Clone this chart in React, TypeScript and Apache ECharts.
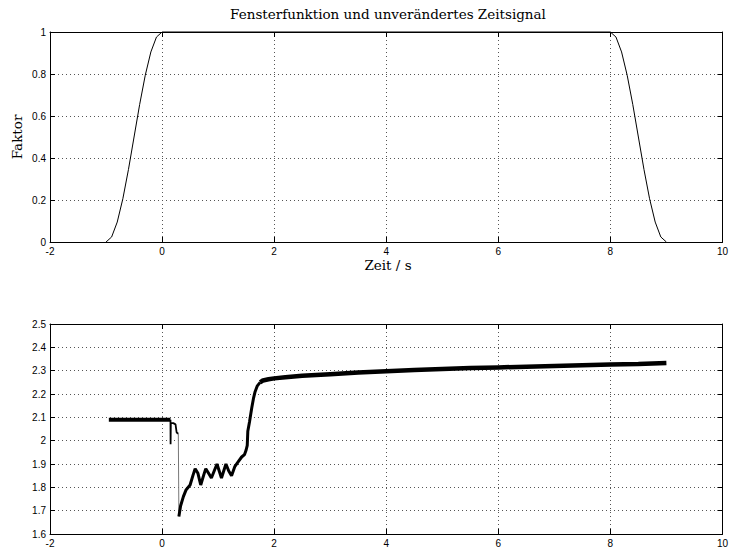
import React, { useEffect, useRef } from "react";
import * as echarts from "echarts";

// ---- Data ----
const xTicks = [-2, 0, 2, 4, 6, 8, 10];

// Window function (top plot)
const windowT = [-1, -0.9, -0.8, -0.7, -0.6, -0.5, -0.4, -0.3, -0.2, -0.1, 0, 8, 8.1, 8.2, 8.3, 8.4, 8.5, 8.6, 8.7, 8.8, 8.9, 9];
const windowV = [0, 0.024, 0.095, 0.206, 0.345, 0.5, 0.655, 0.794, 0.905, 0.976, 1, 1, 0.976, 0.905, 0.794, 0.655, 0.5, 0.345, 0.206, 0.095, 0.024, 0];

// Time signal (bottom plot)
const holdT = [-0.95, 0.15];
const holdV = [2.09, 2.09];

const spikeT = [0.15, 0.152, 0.156, 0.2, 0.24, 0.26, 0.29];
const spikeV = [2.09, 1.985, 2.075, 2.075, 2.07, 2.035, 2.03];

const dropT = [0.29, 0.3];
const dropV = [2.03, 1.675];

const recoverT = [0.3, 0.33, 0.38, 0.43, 0.5, 0.55, 0.59, 0.64, 0.69, 0.74, 0.78, 0.83, 0.88, 0.93, 0.98, 1.02, 1.06, 1.1, 1.14, 1.19, 1.24, 1.3, 1.36, 1.42, 1.47, 1.5, 1.52, 1.53, 1.56, 1.6, 1.63, 1.66, 1.7, 1.75];
const recoverV = [1.675, 1.72, 1.76, 1.79, 1.81, 1.85, 1.88, 1.86, 1.81, 1.85, 1.88, 1.86, 1.84, 1.87, 1.9, 1.87, 1.84, 1.87, 1.9, 1.87, 1.85, 1.89, 1.91, 1.93, 1.94, 1.96, 1.98, 2.04, 2.08, 2.14, 2.18, 2.21, 2.235, 2.25];

const plateauT = [1.75, 1.8, 1.9, 2.0, 2.2, 2.5, 3.0, 3.5, 4.0, 4.5, 5.0, 5.5, 6.0, 6.5, 7.0, 7.5, 8.0, 8.5, 9.0];
const plateauV = [2.25, 2.258, 2.263, 2.267, 2.272, 2.278, 2.285, 2.292, 2.298, 2.303, 2.307, 2.311, 2.314, 2.317, 2.32, 2.323, 2.326, 2.329, 2.333];

const titleText = "Fensterfunktion und unverändertes Zeitsignal";
const xLabelText = "Zeit / s";
const yLabelText = "Faktor";

const pairs = (t: number[], v: number[]) => t.map((x, i) => [x, v[i]]);

const LABEL_FONT = "Liberation Sans";
const SERIF = "DejaVu Serif";

function mainX(gridIndex: number) {
  return {
    type: "value",
    gridIndex,
    position: "bottom",
    min: xTicks[0],
    max: xTicks[xTicks.length - 1],
    interval: 2,
    axisLine: { show: true, onZero: false, lineStyle: { color: "#000", width: 1 } },
    axisTick: { show: true, inside: true, length: 5, lineStyle: { color: "#000" } },
    axisLabel: { color: "#000", fontSize: 10, fontFamily: LABEL_FONT, margin: 4 },
    splitLine: { show: true, lineStyle: { type: [1, 3], color: "#555", width: 1 } },
  };
}
function secX(gridIndex: number) {
  return {
    type: "value",
    gridIndex,
    position: "top",
    min: xTicks[0],
    max: xTicks[xTicks.length - 1],
    interval: 2,
    axisLine: { show: true, onZero: false, lineStyle: { color: "#000", width: 1 } },
    axisTick: { show: true, inside: true, length: 5, lineStyle: { color: "#000" } },
    axisLabel: { show: false },
    splitLine: { show: false },
  };
}
function mainY(gridIndex: number, min: number, max: number, interval: number) {
  return {
    type: "value",
    gridIndex,
    position: "left",
    min,
    max,
    interval,
    axisLine: { show: true, onZero: false, lineStyle: { color: "#000", width: 1 } },
    axisTick: { show: true, inside: true, length: 5, lineStyle: { color: "#000" } },
    axisLabel: {
      color: "#000",
      fontSize: 10,
      fontFamily: LABEL_FONT,
      margin: 4,
      formatter: (v: number) => String(Math.round(v * 10) / 10),
    },
    splitLine: { show: true, lineStyle: { type: [1, 3], color: "#555", width: 1 } },
  };
}
function secY(gridIndex: number, min: number, max: number, interval: number) {
  return {
    type: "value",
    gridIndex,
    position: "right",
    min,
    max,
    interval,
    axisLine: { show: true, onZero: false, lineStyle: { color: "#000", width: 1 } },
    axisTick: { show: true, inside: true, length: 5, lineStyle: { color: "#000" } },
    axisLabel: { show: false },
    splitLine: { show: false },
  };
}

function line(name: string, data: number[][], xi: number, yi: number, width: number, color = "#000") {
  return {
    name,
    type: "line",
    xAxisIndex: xi,
    yAxisIndex: yi,
    data,
    showSymbol: false,
    symbol: "none",
    lineStyle: { color, width },
    clip: false,
  };
}

export default function App() {
  const ref = useRef<HTMLDivElement>(null);
  useEffect(() => {
    if (!ref.current) return;
    const chart = echarts.init(ref.current, null, { renderer: "svg" });
    const option = {
      animation: false,
      backgroundColor: "#fff",
      grid: [
        { left: 50, top: 32, width: 676, height: 210 },
        { left: 50, top: 324, width: 676, height: 210 },
      ],
      xAxis: [mainX(0), secX(0), mainX(1), secX(1)],
      yAxis: [mainY(0, 0, 1, 0.2), secY(0, 0, 1, 0.2), mainY(1, 1.6, 2.5, 0.1), secY(1, 1.6, 2.5, 0.1)],
      series: [
        line("Fenster", pairs(windowT, windowV), 0, 0, 1),
        line("Halten", pairs(holdT, holdV), 2, 2, 4),
        line("Spitze", pairs(spikeT, spikeV), 2, 2, 1.8),
        line("Abfall", pairs(dropT, dropV), 2, 2, 1, "#777"),
        line("Erholung", pairs(recoverT, recoverV), 2, 2, 3),
        line("Plateau", pairs(plateauT, plateauV), 2, 2, 4.5),
      ],
      graphic: [
        {
          type: "text",
          x: 388,
          y: 14,
          style: { text: titleText, font: `13.5px "${SERIF}"`, fill: "#000", align: "center", verticalAlign: "middle" },
        },
        {
          type: "text",
          x: 388,
          y: 265,
          style: { text: xLabelText, font: `13.5px "${SERIF}"`, fill: "#000", align: "center", verticalAlign: "middle" },
        },
        {
          type: "text",
          x: 17,
          y: 137,
          rotation: Math.PI / 2,
          style: { text: yLabelText, font: `13.5px "${SERIF}"`, fill: "#000", align: "center", verticalAlign: "middle" },
        },
      ],
    };
    chart.setOption(option as any);
    return () => chart.dispose();
  }, []);
  return (
    <div
      ref={ref}
      style={{ position: "absolute", left: 0, top: 0, width: 731, height: 552, background: "#fff" }}
    />
  );
}
